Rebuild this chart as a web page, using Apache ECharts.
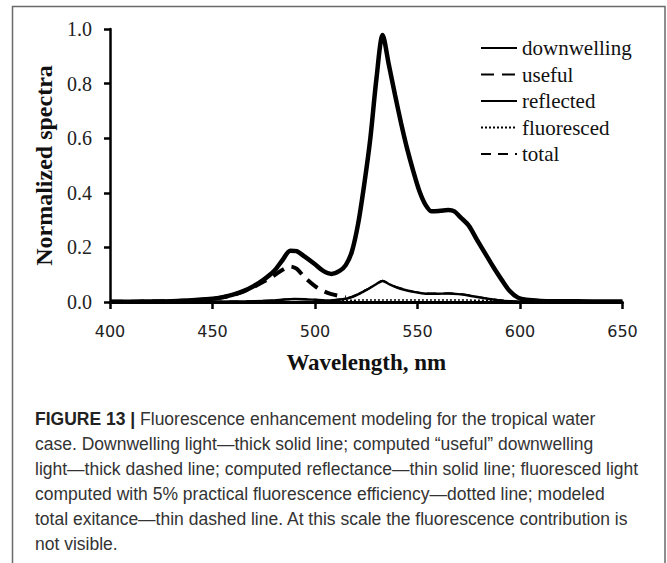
<!DOCTYPE html>
<html>
<head>
<meta charset="utf-8">
<script src="https://cdn.jsdelivr.net/npm/echarts@6/dist/echarts.min.js"></script>
<style>
html,body{margin:0;padding:0;background:#fff;}
#chart{width:667px;height:563px;}
</style>
</head>
<body>
<div id="chart"></div>
<script>
// ---- data ----
var seriesNames = ['downwelling', 'useful', 'reflected', 'fluoresced', 'total'];
var xTicks = [400, 450, 500, 550, 600, 650];
var yTicks = [0.0, 0.2, 0.4, 0.6, 0.8, 1.0];

var wlThick = [400,410,420,430,440,450,455,460,465,470,475,480,484,488,491,495,500,504,508,512,515,518,521,524,527,530,533,536,539,542,545,548,551,554,557,561,565,568,571,575,579,583,587,591,595,599,603,610,620,635,650];
var downwelling = [0.001,0.001,0.002,0.003,0.006,0.012,0.018,0.027,0.040,0.058,0.082,0.113,0.152,0.188,0.186,0.166,0.138,0.114,0.103,0.114,0.135,0.185,0.285,0.430,0.600,0.820,0.978,0.870,0.760,0.655,0.560,0.478,0.405,0.355,0.332,0.334,0.337,0.332,0.310,0.280,0.228,0.178,0.128,0.082,0.040,0.016,0.008,0.004,0.003,0.002,0.002];

var wlUseful = [400,410,420,430,440,450,455,460,465,470,475,480,484,488,491,495,500,504,508,512,515];
var useful = [0.001,0.001,0.002,0.003,0.006,0.012,0.017,0.026,0.038,0.055,0.075,0.097,0.117,0.130,0.122,0.090,0.058,0.040,0.029,0.022,0.017];

var wlThin = [400,420,440,460,470,480,485,490,495,500,505,510,515,518,521,524,527,530,533,536,540,544,548,552,556,560,565,570,575,580,585,590,595,600,620,650];
var reflected = [0.000,0.001,0.001,0.002,0.003,0.006,0.009,0.011,0.010,0.008,0.006,0.007,0.012,0.018,0.028,0.040,0.052,0.066,0.077,0.066,0.053,0.044,0.037,0.032,0.030,0.030,0.031,0.029,0.024,0.017,0.011,0.006,0.003,0.001,0.000,0.000];
var fluoresced = [0.000,0.000,0.000,0.000,0.000,0.000,0.000,0.000,0.000,0.001,0.002,0.004,0.006,0.006,0.007,0.007,0.007,0.007,0.007,0.007,0.007,0.007,0.007,0.007,0.007,0.007,0.007,0.007,0.007,0.006,0.006,0.005,0.003,0.001,0.000,0.000];
var total = [0.000,0.001,0.001,0.002,0.003,0.006,0.009,0.011,0.010,0.008,0.006,0.008,0.013,0.019,0.029,0.041,0.053,0.067,0.078,0.067,0.054,0.045,0.038,0.033,0.031,0.031,0.032,0.030,0.025,0.018,0.012,0.007,0.004,0.001,0.000,0.000];

var captionLines = [
  'Fluorescence enhancement modeling for the tropical water',
  'case. Downwelling light\u2014thick solid line; computed \u201cuseful\u201d downwelling',
  'light\u2014thick dashed line; computed reflectance\u2014thin solid line; fluoresced light',
  'computed with 5% practical fluorescence efficiency\u2014dotted line; modeled',
  'total exitance\u2014thin dashed line. At this scale the fluorescence contribution is',
  'not visible.'
];
var captionLabel = 'FIGURE 13 |';

function pairs(xs, ys) { return xs.map(function (x, i) { return [x, ys[i]]; }); }

var chart = echarts.init(document.getElementById('chart'), null, { renderer: 'svg' });

var serif = '"Liberation Serif", "Times New Roman", serif';
var captionFont = '"Liberation Sans", Arial, sans-serif';

var graphics = [{
  type: 'rect', z: -10, silent: true,
  shape: { x: 12.5, y: 6.5, width: 652.5, height: 620 },
  style: { fill: 'none', stroke: '#6a6a6a', lineWidth: 1.5 }
}];
var capTop = 409.5, capDy = 25;
captionLines.forEach(function (line, i) {
  graphics.push({
    type: 'text', left: 35, top: capTop + i * capDy, silent: true,
    style: {
      text: i === 0 ? '{b|' + captionLabel + '} ' + line : line,
      fontFamily: captionFont, fontSize: 17.5, fill: '#333',
      rich: { b: { fontFamily: captionFont, fontSize: 17.5, fontWeight: 'bold', fill: '#222' } }
    }
  });
});

var option = {
  animation: false,
  backgroundColor: '#fff',
  grid: { left: 110, right: 44.5, top: 29, bottom: 261, containLabel: false },
  legend: {
    orient: 'vertical', left: 480, top: 37.5, padding: 0, itemWidth: 36, itemHeight: 14, itemGap: 5.5,
    data: seriesNames,
    itemStyle: { opacity: 0 },
    textStyle: { fontFamily: serif, fontSize: 21, color: '#111', lineHeight: 21 }
  },
  xAxis: {
    type: 'value', min: 400, max: 650, interval: 50,
    axisLine: { lineStyle: { color: '#000', width: 3 } },
    axisTick: { show: true, length: 7, lineStyle: { color: '#000', width: 2.5 } },
    splitLine: { show: false },
    axisLabel: { fontFamily: '"DejaVu Sans", sans-serif', fontSize: 16, color: '#222', margin: 21,
      formatter: function (v) { return xTicks.indexOf(v) >= 0 ? String(v) : ''; } },
    name: 'Wavelength, nm', nameLocation: 'middle', nameGap: 49,
    nameTextStyle: { fontFamily: serif, fontWeight: 'bold', fontSize: 23, color: '#111' }
  },
  yAxis: {
    type: 'value', min: 0, max: 1, interval: 0.2,
    axisLine: { show: true, lineStyle: { color: '#000', width: 2.5 } },
    axisTick: { show: true, length: 6, lineStyle: { color: '#000', width: 2.5 } },
    splitLine: { show: false },
    axisLabel: { fontFamily: serif, fontSize: 20, color: '#222', margin: 18,
      formatter: function (v) { return v.toFixed(1); } },
    name: 'Normalized spectra', nameLocation: 'middle', nameGap: 50,
    nameTextStyle: { fontFamily: serif, fontWeight: 'bold', fontSize: 24, color: '#111' }
  },
  series: [
    { name: 'downwelling', type: 'line', data: pairs(wlThick, downwelling), smooth: 0.3, symbol: 'none', z: 5,
      lineStyle: { color: '#000', width: 4.5 }, itemStyle: { color: '#000' } },
    { name: 'useful', type: 'line', data: pairs(wlUseful, useful), smooth: 0.3, symbol: 'none', z: 4,
      lineStyle: { color: '#000', width: 4, type: [13, 8] }, itemStyle: { color: '#000' } },
    { name: 'reflected', type: 'line', data: pairs(wlThin, reflected), smooth: 0.3, symbol: 'none', z: 3,
      lineStyle: { color: '#000', width: 2.4 }, itemStyle: { color: '#000' } },
    { name: 'fluoresced', type: 'line', data: pairs(wlThin, fluoresced), smooth: 0.3, symbol: 'none', z: 3,
      lineStyle: { color: '#000', width: 1.5, type: [2, 2] }, itemStyle: { color: '#000' } },
    { name: 'total', type: 'line', data: pairs(wlThin, total), smooth: 0.3, symbol: 'none', z: 2,
      lineStyle: { color: '#000', width: 2, type: [10, 7] }, itemStyle: { color: '#000' } }
  ],
  graphic: graphics
};
chart.setOption(option);
</script>
</body>
</html>
